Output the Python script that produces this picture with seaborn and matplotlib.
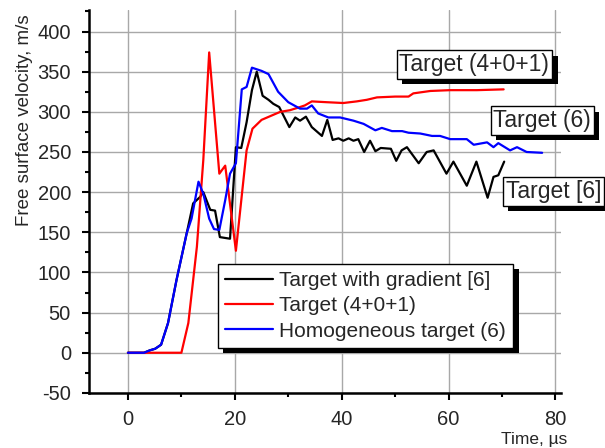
import numpy as np
import pandas as pd
import matplotlib
matplotlib.use("Agg")
import matplotlib.pyplot as plt
import matplotlib.patheffects as pe
import seaborn as sns

# Datos (tiempo en us, velocidad en m/s)
t_gradient = [0, 3, 4.1, 5.1, 6.2, 7.5, 9.1, 11, 12.2, 13.5, 14.1, 15.4, 16.3, 17.2, 19.1,
              20.2, 21.2, 22.2, 23.2, 24.1, 25.2, 26.3, 27.2, 28.3, 30.2, 31.3, 32.2, 33.3,
              34.4, 36.3, 37.3, 38.3, 39.4, 40.3, 41.3, 42.2, 43.1, 44.2, 45.3, 46.3, 47.3,
              49.2, 50.2, 51.2, 52.2, 54.4, 55.9, 57.2, 59.6, 60.9, 63.4, 65.2, 67.3, 68.4,
              69.3, 70.4]
v_gradient = [0, 0, 3, 5, 10, 37, 91, 149, 186, 194, 200, 178, 177, 144, 142,
              256, 255, 287, 327, 350, 320, 315, 310, 306, 281, 293, 289, 294,
              281, 270, 290, 265, 267, 264, 267, 264, 266, 250, 264, 251, 255,
              254, 239, 252, 256, 236, 250, 252, 223, 238, 208, 238, 193, 219,
              221, 238]

t_layered = [0, 10, 11.3, 12.9, 14.1, 15.2, 17.1, 18.2, 20.2, 22.2, 23.3, 25, 28.5, 30.3,
             32.2, 33.1, 34.4, 37.2, 40.3, 42.8, 44.7, 46.6, 50, 52.5, 53.4, 56.6, 60.3,
             65.3, 70.3]
v_layered = [0, 0, 37, 132, 240, 374, 223, 233, 127, 252, 279, 290, 300, 302,
             306, 308, 313, 312, 311, 313, 315, 318, 319, 319, 323, 326, 327,
             327, 328]

t_homog = [0, 3, 4.1, 5.1, 6.2, 7.5, 9.1, 11, 11.9, 13.2, 14.1, 15.2, 16.1, 17.1, 18.2,
           19.1, 20.2, 21.3, 22.2, 23.2, 25, 26.3, 28.1, 30, 32.2, 33.5, 34.4, 35.6, 37.5,
           39.7, 42.2, 44.1, 46.3, 47.5, 49.4, 51.3, 52.5, 54.7, 56.9, 58.4, 60.3, 63.4,
           64.7, 67.2, 68.4, 69.3, 71.5, 72.8, 74.6, 77.5]
v_homog = [0, 0, 3, 5, 10, 37, 91, 149, 167, 213, 198, 167, 154, 153, 190,
           223, 236, 328, 331, 355, 351, 347, 325, 312, 304, 304, 308, 298, 293,
           293, 289, 285, 277, 280, 276, 276, 274, 273, 270, 270, 266, 266,
           259, 262, 256, 261, 252, 256, 250, 249]

series_names = ["Target with gradient [6]", "Target (4+0+1)", "Homogeneous target (6)"]
series_colors = ["black", "red", "blue"]

x_ticks = [0, 20, 40, 60, 80]
y_ticks = [-50, 0, 50, 100, 150, 200, 250, 300, 350, 400]

frames = []
for name, t, v in zip(series_names, [t_gradient, t_layered, t_homog],
                      [v_gradient, v_layered, v_homog]):
    frames.append(pd.DataFrame({"time": t, "velocity": v, "series": name}))
df = pd.concat(frames, ignore_index=True)

sns.set_style("ticks")
plt.rcParams["font.family"] = ["Liberation Sans", "DejaVu Sans"]
plt.rcParams["axes.unicode_minus"] = False

fig, ax = plt.subplots(figsize=(6.05, 4.48), dpi=100)
fig.subplots_adjust(left=0.147, right=0.927, bottom=0.123, top=0.978)

sns.lineplot(data=df, x="time", y="velocity", hue="series", hue_order=series_names,
             palette=dict(zip(series_names, series_colors)), estimator=None, sort=False,
             linewidth=1.6, ax=ax)

ax.set_xlim(-7.3, 81)
ax.set_ylim(-50, 427)
ax.set_xticks(x_ticks)
ax.set_xticks([10, 30, 50, 70], minor=True)
ax.set_yticks(y_ticks)
ax.set_yticks(np.arange(-25, 426, 50), minor=True)
ax.grid(True, which="major", color="#a8a8a8", linewidth=1.0)
ax.set_axisbelow(True)

sns.despine(ax=ax)
for side in ["left", "bottom"]:
    ax.spines[side].set_linewidth(1.8)
    ax.spines[side].set_color("black")
ax.tick_params(which="major", direction="out", length=5, width=1.5, labelsize=14.5, color="black")
ax.tick_params(axis="y", which="major", pad=8)
ax.tick_params(axis="x", which="major", pad=7)
ax.tick_params(which="minor", direction="out", length=3, width=1.5, color="black")

ax.set_xlabel("Time, µs", fontsize=12.5, loc="right")
ax.xaxis.set_label_coords(1.013, -0.102)
ax.set_ylabel("Free surface velocity, m/s", fontsize=13.5)
ax.yaxis.set_label_coords(-0.119, 0.713)

# Leyenda con sombra negra
sns.move_legend(ax, "upper left", bbox_to_anchor=(0.273, 0.337), borderaxespad=0,
                title=None, frameon=True, fancybox=False, fontsize=15, borderpad=0.35,
                handlelength=2.3, handletextpad=0.3, labelspacing=0.3)
leg = ax.get_legend()
leg.get_frame().set_edgecolor("black")
leg.get_frame().set_linewidth(1.0)
leg.get_frame().set_alpha(1)
leg.get_frame().set_path_effects([pe.withSimplePatchShadow(offset=(4, -4), shadow_rgbFace="black", alpha=1)])

# Etiquetas de las curvas
labels = [("Target (4+0+1)", 64.8, 359), ("Target (6)", 77.5, 289), ("Target [6]", 79.6, 201)]
for text, x, y in labels:
    t = ax.text(x, y, text, fontsize=16.5, ha="center", va="center",
                bbox=dict(boxstyle="square,pad=0.12", fc="white", ec="black", lw=1.0))
    t.get_bbox_patch().set_path_effects([pe.withSimplePatchShadow(offset=(4, -4), shadow_rgbFace="black", alpha=1)])

fig.savefig("out.png", dpi=100)
